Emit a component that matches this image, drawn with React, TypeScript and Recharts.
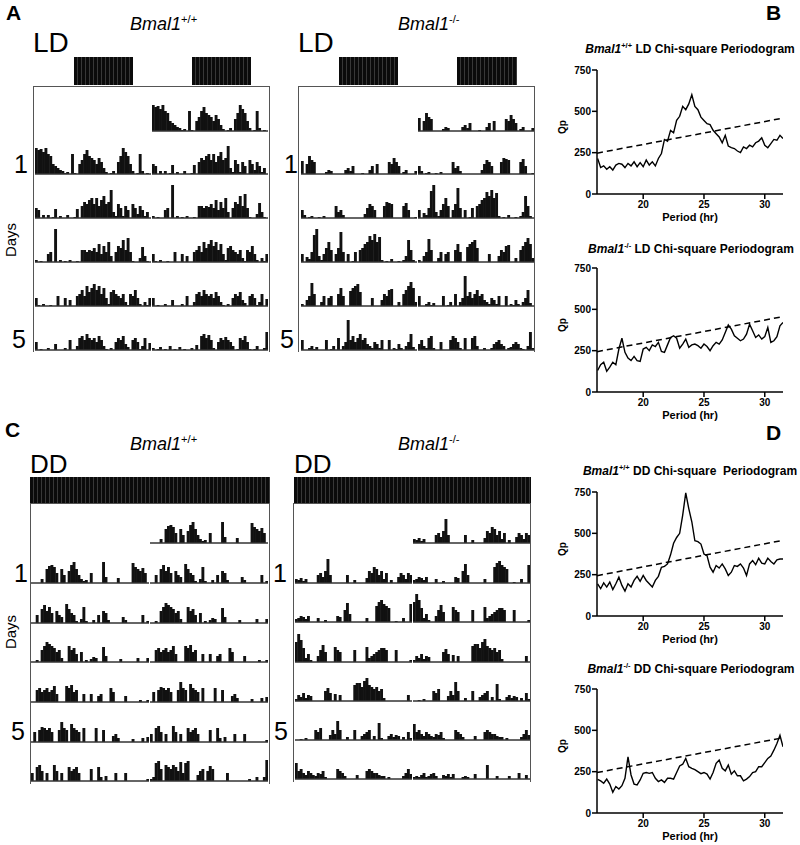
import React from "react";
import { BarChart, Bar, XAxis, YAxis, ReferenceLine, LineChart, Line } from "recharts";

// activity counts per 30-min bin (48 bins per day)
const wtLD1 = [26,24,25,22,26,20, 18,10,8,6,4,3, 1,2,0,20,1,0, 10,14,20,24,18,16, 14,10,16,12,6,2, 0,1,3,0,12,18, 26,22,18,10,3,0, 1,20,3,0,1,0];
const wtLD2 = [10,8,0,3,0,3, 0,1,9,0,2,0, 0,3,0,0,1,9, 0,12,16,14,18,20, 14,20,12,18,22,14, 16,28,6,2,14,10, 2,12,8,0,14,10, 4,12,8,2,6,0];
const wtLD3 = [2,0,1,0,0,8, 10,0,33,0,2,0, 1,0,2,0,0,1, 0,12,12,10,12,11, 14,10,18,8,16,10, 20,6,0,10,16,14, 22,12,24,10,1,0, 0,4,15,6,1,0];
const wtLD4 = [8,1,0,2,0,0, 1,0,0,10,0,0, 8,0,6,0,0,10, 12,16,10,20,14,18, 22,16,20,12,18,8, 2,14,16,12,10,8, 12,4,1,12,10,16, 8,2,0,4,1,8];
const wtLD5 = [8,0,1,0,0,2, 0,0,6,0,0,0, 2,0,10,0,0,4, 12,14,10,16,12,10, 12,8,14,10,4,1, 0,2,0,8,12,10, 14,6,3,0,10,12, 8,1,4,12,0,7];
const wtLD6 = [2,0,1,3,0,1, 0,4,0,1,0,3, 0,1,0,0,2,0, 5,0,14,16,12,15, 10,2,0,8,12,10, 13,10,8,4,0,1, 12,10,14,8,1,0, 1,4,0,0,2,18];

const koLD1 = [13,0,10,18,14,12, 0,0,0,0,2,4, 3,0,0,0,0,0, 4,6,3,8,0,0, 0,1,0,0,4,8, 0,10,0,0,0,0, 12,10,16,12,8,0, 2,4,0,0,0,3];
const koLD2 = [8,3,0,1,2,0, 0,1,0,2,0,0, 0,0,12,6,8,3, 0,0,0,0,0,0, 0,0,4,10,14,12, 8,0,0,0,12,16, 15,14,0,0,0,0, 12,15,8,0,0,1];
const koLD3 = [8,0,5,3,10,27, 33,6,2,8,14,20, 12,0,8,14,30,10, 0,8,0,1,10,0, 12,14,18,20,26,22, 28,20,25,2,0,1, 0,3,0,0,1,0, 2,6,22,12,2,0];
const koLD4 = [2,0,6,10,23,12, 0,0,4,10,0,8, 10,0,0,12,18,10, 0,0,15,18,20,22, 14,0,0,0,0,8, 0,0,0,6,12,10, 16,17,0,0,4,0, 12,16,20,24,18,4];
const koLD5 = [10,0,0,2,4,1, 3,0,0,0,10,0, 1,4,0,12,0,4, 8,30,10,14,8,12, 16,10,12,6,4,2, 8,6,2,10,0,0, 10,0,2,1,6,2, 0,4,8,16,3,0];
const koLD6 = [6,10,4,2,12,14, 2,0,0,8,0,0, 0,10,14,12,8,2, 0,12,0,0,12,14, 4,0,0,2,0,0, 2,6,8,10,6,4, 0,2,3,6,8,6, 2,1,0,4,18,2];

const wtDD1 = [0,0,0,0,4,0, 14,17,18,16,10,0, 14,8,0,12,18,21, 14,8,4,2,3,0, 10,0,0,0,0,21, 6,0,0,0,0,5, 0,0,0,0,0,20, 16,14,12,15,10,0];
const wtDD2 = [0,0,8,0,14,18, 12,16,10,0,12,8, 6,0,19,14,10,8, 2,0,4,16,2,0, 0,3,0,8,0,12, 10,3,0,0,0,0, 0,6,3,0,0,0, 0,0,0,8,0,2];
const wtDD3 = [0,0,2,0,12,16, 20,18,16,14,10,12, 4,0,0,16,12,14, 8,0,10,0,2,0, 3,5,4,0,0,15, 6,0,0,0,0,0, 3,0,0,0,0,0, 0,4,0,0,0,4];
const wtDD4 = [0,0,12,14,10,12, 14,10,12,16,8,0, 0,0,16,14,17,10, 12,0,0,8,0,0, 8,0,0,6,8,0, 0,0,14,10,0,0, 0,0,6,0,0,0, 0,0,2,0,0,2];
const wtDD5 = [0,10,0,12,15,14, 12,14,10,0,0,12, 20,14,12,0,18,14, 12,10,0,14,0,0, 0,0,14,0,0,12, 0,0,0,6,8,4, 0,0,0,0,0,3, 0,0,0,4,0,5];
const wtDD6 = [8,0,14,16,10,0, 8,0,0,16,10,0, 8,0,0,14,10,12, 14,8,0,0,0,0, 12,0,0,14,4,0, 5,0,0,0,8,0, 0,0,8,0,0,0, 0,0,0,0,0,2];
const wtDD7 = [2,4,18,20,12,0, 16,14,12,16,14,10, 19,8,18,20,0,0, 0,6,10,12,0,10, 15,12,0,0,0,0, 0,8,0,0,0,0, 0,0,0,0,2,0, 0,4,0,0,4,21];

const koDD1 = [4,3,5,2,4,0, 0,0,0,8,10,6, 12,24,8,0,0,0, 0,0,0,8,0,0, 3,0,0,0,0,5, 12,10,16,14,8,12, 4,10,0,3,0,0, 6,10,8,4,10,8];
const koDD2 = [3,4,6,5,3,6, 0,0,0,4,0,0, 2,0,0,0,0,6, 5,0,12,19,8,0, 0,0,0,0,0,4, 0,0,0,16,20,22, 18,16,14,0,0,1, 0,0,4,0,0,18];
const koDD3 = [20,28,22,14,4,8, 2,0,0,6,12,17, 10,0,0,0,15,12, 10,0,0,0,0,0, 12,0,0,0,0,15, 4,6,8,10,12,14, 14,12,0,0,0,12, 0,0,0,0,0,2];
const koDD4 = [2,6,4,8,3,6, 5,0,0,0,0,0, 10,13,8,0,7,0, 6,0,0,0,0,0, 16,18,18,14,20,23, 16,14,12,14,10,12, 3,0,0,0,0,0, 0,0,0,0,6,0];
const koDD5 = [0,0,1,0,2,0, 0,0,10,8,12,0, 0,0,5,10,6,19, 10,0,0,3,0,0, 10,0,0,4,6,8, 10,0,4,0,17,2, 0,0,4,6,3,5, 4,0,3,0,8,2];
const koDD6 = [16,8,10,6,4,8, 6,4,3,6,5,8, 2,0,0,0,0,10, 8,6,3,0,0,0, 0,4,0,0,0,8, 10,8,6,6,4,3, 3,0,2,0,0,0, 0,0,3,6,10,5];
const koDD7 = [2,3,2,4,6,2, 3,5,6,3,0,0, 4,3,5,2,5,0, 0,0,2,3,2,0, 0,5,0,0,0,0, 14,0,0,0,3,0, 0,0,0,3,0,0, 0,6,0,0,4,0];

// chi-square periodograms
const periods = [16.25,16.5,16.75,17,17.25,17.5,17.75,18,18.25,18.5,18.75,19,19.25,19.5,19.75,20,20.25,20.5,20.75,21,21.25,21.5,21.75,22,22.25,22.5,22.75,23,23.25,23.5,23.75,24,24.25,24.5,24.75,25,25.25,25.5,25.75,26,26.25,26.5,26.75,27,27.25,27.5,27.75,28,28.25,28.5,28.75,29,29.25,29.5,29.75,30,30.25,30.5,30.75,31,31.25,31.5];
const qpWtLD = [215,160,170,150,165,145,175,185,180,160, 185,170,195,165,190,165,205,175,195,170, 215,245,330,320,385,370,445,470,530,510, 545,600,530,510,465,445,425,420,385,365, 345,310,355,290,280,275,260,250,285,275, 295,285,310,320,340,295,280,305,330,325, 355,335];
const qpKoLD = [130,165,180,125,150,180,165,260,325,240, 205,190,215,190,185,260,270,250,285,275, 300,245,240,285,330,340,325,265,290,320, 270,285,290,280,265,290,275,250,280,300, 290,315,360,405,380,340,325,310,320,350, 410,370,330,345,320,335,390,300,310,335, 400,420];
const qpWtDD = [194,165,200,175,205,160,195,235,185,150, 195,175,215,240,210,245,215,195,175,215, 240,295,300,315,370,440,475,500,610,745, 650,570,455,450,435,375,365,295,265,305, 290,315,285,245,265,305,300,315,290,245, 315,335,310,350,320,315,350,330,315,340, 345,345];
const qpKoDD = [204,194,180,205,175,125,160,145,165,210, 340,230,175,170,200,240,245,240,245,210, 190,200,185,210,210,205,245,285,295,330, 280,270,262,250,238,245,235,205,245,300, 320,270,255,290,235,255,225,225,195,205, 220,245,250,280,280,305,330,345,380,420, 470,400];
// significance line (start, end)
const sigWtLD = [247, 459];
const sigKoLD = [244, 456];
const sigWtDD = [244, 458];
const sigKoDD = [245, 455];

const FONT = '"Liberation Sans", Arial, Helvetica, sans-serif';
const ROW_H = 40;
const P_MIN = 16.2;
const P_MAX = 31.5;

// bins drawn a little wider than the band so neighbouring bins join up
const BinBar = (p: any) =>
  p.height > 0 ? <rect x={p.x - 0.2} y={p.y} width={p.width + 0.9} height={p.height} fill="#111" /> : null;

function HalfRow({ values, x, base, width }: { values: number[]; x: number; base: number; width: number }) {
  const data = values.map((v, i) => ({ i, v }));
  return (
    <div style={{ position: "absolute", left: x, top: base - ROW_H, width, height: ROW_H + 2 }}>
      <BarChart width={width} height={ROW_H + 2} data={data} margin={{ top: 0, right: 0, bottom: 2, left: 0 }} barCategoryGap={0}>
        <XAxis dataKey="i" hide />
        <YAxis hide domain={[0, ROW_H]} allowDataOverflow />
        <Bar dataKey="v" fill="#111" shape={BinBar} isAnimationActive={false} />
        <ReferenceLine y={0} stroke="#333" strokeWidth={1.5} />
      </BarChart>
    </div>
  );
}

function Actogram({ days, x0, x1, halfW, baselines }: { days: number[][]; x0: number; x1: number; halfW: number; baselines: number[] }) {
  const rows = [<HalfRow key="p" values={days[0]} x={x1} base={baselines[0]} width={halfW} />];
  for (let r = 1; r < days.length; r++) {
    rows.push(<HalfRow key={"l" + r} values={days[r - 1]} x={x0} base={baselines[r]} width={halfW} />);
    rows.push(<HalfRow key={"r" + r} values={days[r]} x={x1} base={baselines[r]} width={halfW} />);
  }
  return <>{rows}</>;
}

function Periodogram({ values, plotTop, sig }: { values: number[]; plotTop: number; sig: number[] }) {
  const data = periods.map((p, i) => ({ p, qp: values[i] }));
  const axis = { stroke: "#000", strokeWidth: 1.5 };
  const tick = { fill: "#000", fontSize: 10, fontWeight: 700 };
  return (
    <>
      <div
        style={{
          position: "absolute",
          left: 563,
          top: plotTop + 57,
          fontSize: 10,
          fontWeight: 700,
          lineHeight: 1,
          transform: "translate(-50%, -50%) rotate(-90deg)",
        }}
      >
        Qp
      </div>
      <div style={{ position: "absolute", left: 520, top: plotTop - 10 }}>
        <LineChart width={280} height={164} data={data} margin={{ top: 10, right: 17, bottom: 0, left: 9 }}>
          <XAxis
            dataKey="p"
            type="number"
            domain={[P_MIN, P_MAX]}
            ticks={[20, 25, 30]}
            allowDataOverflow
            height={30}
            axisLine={axis}
            tickLine={axis}
            tickSize={5}
            tickMargin={2}
            tick={tick}
            label={{ value: "Period (hr)", position: "insideBottom", offset: 3, fill: "#000", fontSize: 11, fontWeight: 700 }}
          />
          <YAxis
            width={68}
            domain={[0, 750]}
            ticks={[0, 250, 500, 750]}
            axisLine={axis}
            tickLine={axis}
            tickSize={5}
            tickMargin={1}
            tick={tick}
          />
          <ReferenceLine
            segment={[{ x: P_MIN, y: sig[0] }, { x: P_MAX, y: sig[1] }]}
            stroke="#000"
            strokeWidth={1.5}
            strokeDasharray="6 4"
          />
          <Line dataKey="qp" type="linear" stroke="#000" strokeWidth={1.4} dot={false} isAnimationActive={false} />
        </LineChart>
      </div>
    </>
  );
}

// text placed by its baseline
function T({ x, y, size, bold, italic, center, children }: any) {
  const style: React.CSSProperties = {
    position: "absolute",
    top: y - 0.8465 * size,
    fontSize: size,
    lineHeight: 1,
    fontWeight: bold ? 700 : 400,
    fontStyle: italic ? "italic" : "normal",
    whiteSpace: "nowrap",
  };
  if (center) {
    style.left = x - 200;
    style.width = 400;
    style.textAlign = "center";
  } else {
    style.left = x;
  }
  return <div style={style}>{children}</div>;
}

const sup: React.CSSProperties = { fontSize: "0.62em", position: "relative", top: "-0.6em", verticalAlign: "baseline" };

function Gene({ ko }: { ko?: boolean }) {
  return (
    <>
      <i>Bmal1</i>
      <span style={sup}>{ko ? "-/-" : "+/+"}</span>
    </>
  );
}

const stripes = "repeating-linear-gradient(90deg, #0b0b0b 0px, #0b0b0b 3px, #383838 3px, #383838 4px)";

function Block({ x, y, w, h }: { x: number; y: number; w: number; h: number }) {
  return <div style={{ position: "absolute", left: x, top: y, width: w, height: h, background: stripes }} />;
}

function Frame({ x, y, w, h }: { x: number; y: number; w: number; h: number }) {
  return (
    <div
      style={{
        position: "absolute",
        left: x,
        top: y,
        width: w,
        height: h,
        boxSizing: "border-box",
        borderLeft: "1.5px solid #555",
        borderTop: "1.5px solid #555",
        borderRight: "1.5px solid #555",
      }}
    />
  );
}

function Days({ y }: { y: number }) {
  return (
    <div
      style={{
        position: "absolute",
        left: 10,
        top: y,
        fontSize: 15,
        lineHeight: 1,
        whiteSpace: "nowrap",
        transform: "translate(-50%, -50%) rotate(-90deg)",
      }}
    >
      Days
    </div>
  );
}

const ldBase = [131, 174, 218, 262, 306, 350];
const wtDDBase = [543, 583, 623, 662, 702, 742, 781];
const koDDBase = [543, 583, 622, 662, 701, 740, 779];

export default function App() {
  return (
    <div style={{ position: "absolute", left: 0, top: 0, width: 800, height: 845, background: "#fff", fontFamily: FONT, color: "#000", overflow: "hidden" }}>
      {/* panel letters */}
      <T x={6} y={20} size={21} bold>A</T>
      <T x={766} y={20} size={21} bold>B</T>
      <T x={5} y={437} size={21} bold>C</T>
      <T x={766} y={440} size={21} bold>D</T>

      {/* A: LD actograms */}
      <T x={33} y={53} size={28}>LD</T>
      <T x={298} y={53} size={28}>LD</T>
      <T x={130} y={30} size={18}><Gene /></T>
      <T x={398} y={30} size={18}><Gene ko /></T>
      <Block x={74} y={57} w={59} h={28} />
      <Block x={192} y={57} w={59} h={28} />
      <Block x={339} y={57} w={59} h={28} />
      <Block x={457} y={57} w={60} h={28} />
      <Frame x={33} y={86} w={237} h={266} />
      <Frame x={298} y={86} w={237} h={266} />
      <Actogram days={[wtLD1, wtLD2, wtLD3, wtLD4, wtLD5, wtLD6]} x0={35} x1={152} halfW={116} baselines={ldBase} />
      <Actogram days={[koLD1, koLD2, koLD3, koLD4, koLD5, koLD6]} x0={301} x1={418} halfW={116} baselines={ldBase} />
      <T x={14} y={173} size={25}>1</T>
      <T x={12} y={348} size={25}>5</T>
      <T x={284} y={173} size={25}>1</T>
      <T x={280} y={348} size={25}>5</T>
      <Days y={240} />

      {/* C: DD actograms */}
      <T x={30} y={473} size={26}>DD</T>
      <T x={294} y={473} size={26}>DD</T>
      <T x={130} y={450} size={18}><Gene /></T>
      <T x={398} y={450} size={18}><Gene ko /></T>
      <Block x={30} y={477} w={240} h={26} />
      <Block x={294} y={477} w={237} h={26} />
      <Frame x={30} y={503} w={240} h={281} />
      <Frame x={293} y={503} w={238} h={279} />
      <Actogram days={[wtDD1, wtDD2, wtDD3, wtDD4, wtDD5, wtDD6, wtDD7]} x0={31} x1={150} halfW={118} baselines={wtDDBase} />
      <Actogram days={[koDD1, koDD2, koDD3, koDD4, koDD5, koDD6, koDD7]} x0={295} x1={413} halfW={117} baselines={koDDBase} />
      <T x={14} y={582} size={25}>1</T>
      <T x={11} y={740} size={25}>5</T>
      <T x={273} y={582} size={25}>1</T>
      <T x={274} y={740} size={25}>5</T>
      <Days y={632} />

      {/* B and D: periodograms */}
      <T x={690} y={53} size={12} bold center><Gene /> LD Chi-square Periodogram</T>
      <Periodogram values={qpWtLD} plotTop={70} sig={sigWtLD} />
      <T x={691} y={253} size={12} bold center><Gene ko /> LD Chi-square Periodogram</T>
      <Periodogram values={qpKoLD} plotTop={268} sig={sigKoLD} />
      <T x={690} y={475} size={12} bold center><Gene /> DD Chi-square{"\u00a0"} Periodogram</T>
      <Periodogram values={qpWtDD} plotTop={492} sig={sigWtDD} />
      <T x={691} y={673} size={12} bold center><Gene ko /> DD Chi-square Periodogram</T>
      <Periodogram values={qpKoDD} plotTop={689} sig={sigKoDD} />
    </div>
  );
}
